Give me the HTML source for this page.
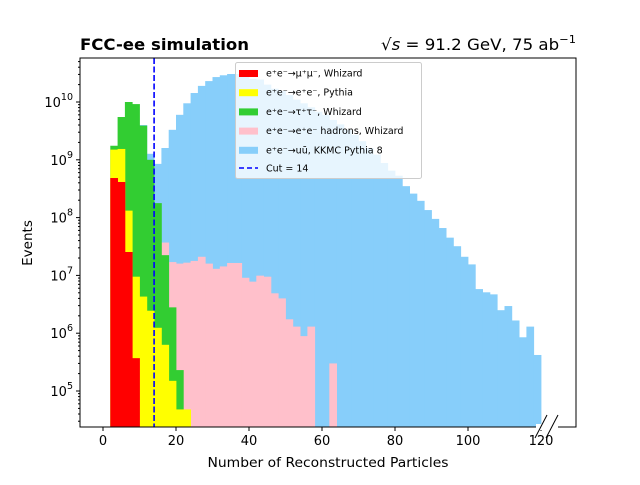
<!DOCTYPE html>
<html><head><meta charset="utf-8"><style>
body{margin:0;background:#fff;}
svg{font-family:"DejaVu Sans","Liberation Sans",sans-serif;}
</style></head><body>
<svg id="chart" width="640" height="480" xmlns="http://www.w3.org/2000/svg">
<rect width="640" height="480" fill="#fff"/>
<text x="80" y="50" font-size="16" font-weight="bold" textLength="169" lengthAdjust="spacingAndGlyphs">FCC-ee simulation</text>
<text x="381" y="50" font-size="16" textLength="195" lengthAdjust="spacingAndGlyphs"><tspan font-style="italic">√s</tspan> = 91.2 GeV, 75 ab<tspan dy="-7" font-size="11">−1</tspan></text>
<g id="bars"></g>
<g id="axes"></g>
<text x="328" y="467" font-size="13.5" text-anchor="middle" textLength="241" lengthAdjust="spacingAndGlyphs">Number of Reconstructed Particles</text>
<text x="32" y="243" font-size="13.5" text-anchor="middle" transform="rotate(-90 32 243)">Events</text>
</svg>
<script>
const binStarts=[];for(let b=2;b<=118;b+=2)binStarts.push(b);
const redVals=[4.84e8,4.13e8,2.54e7,3.7e5];
const yellowVals=[1.5e9,1.54e9,1.32e8,9.5e6,4.3e6,2.45e6,1.24e6,6.3e5,1.5e5,4.8e4,4.8e4];
const greenVals=[1.75e9,5.5e9,1.0e10,9.2e9,3.9e9,1.0e9,1.78e8,2.24e7,2.8e6,2.3e5];
const pinkStart=16;
const pinkVals=[3.7e7,1.7e7,1.6e7,1.66e7,1.78e7,2.1e7,1.6e7,1.3e7,1.43e7,1.64e7,1.64e7,9.1e6,7.8e6,9.9e6,9.5e6,4.9e6,4.0e6,1.74e6,1.3e6,8.9e5,1.3e6,0,0,3.0e5];
const blueStart=8;
const blueVals=[4.0e9,4.0e9,1.27e9,8.5e8,1.6e9,3.3e9,6.0e9,9.5e9,1.43e10,1.9e10,2.3e10,2.7e10,2.9e10,3.05e10,3.05e10,2.8e10,2.5e10,2.45e10,2.0e10,1.7e10,1.55e10,1.32e10,1.1e10,9.5e9,8.1e9,6.8e9,6.0e9,4.9e9,4.1e9,3.3e9,2.7e9,2.1e9,1.6e9,1.23e9,8.8e8,6.5e8,5.3e8,3.5e8,2.6e8,1.95e8,1.35e8,9.5e7,6.6e7,4.5e7,3.2e7,2.1e7,1.55e7,5.8e6,5.1e6,4.7e6,2.5e6,2.95e6,1.66e6,8.5e5,1.3e6,4.2e5];
const xTicks=[0,20,40,60,80,100,120];
const yTickExps=[5,6,7,8,9,10];
const binWidth=2,cutValue=14;

const L=80,R=576,T=58,B=427;
const xs=v=>103+(v)*(438/120);
const ys=v=>102-57.8*(Math.log10(v)-10);
const NS="http://www.w3.org/2000/svg";
const bars=document.getElementById('bars'),axes=document.getElementById('axes'),svg=document.getElementById('chart');
function mk(tag,attrs,parent){const e=document.createElementNS(NS,tag);for(const k in attrs)e.setAttribute(k,attrs[k]);parent.appendChild(e);return e;}
function series(vals,start,color,name){
  vals.forEach((v,i)=>{if(!v)return;const x0=start+i*binWidth;
    const y=Math.max(T,ys(v));if(y>=B)return;
    const r=mk('rect',{x:xs(x0),y:y,width:xs(x0+binWidth)-xs(x0)+0.4,height:B-y,fill:color},bars);
    
    });
}
series(blueVals,blueStart,'#87cefa','uubar');
series(pinkVals,pinkStart,'#ffc0cb','hadrons');
series(greenVals,2,'#32cd32','tautau');
series(yellowVals,2,'#ffff00','ee');
series(redVals,2,'#ff0000','mumu');
const cut=mk('line',{x1:xs(cutValue),x2:xs(cutValue),y1:T,y2:B,stroke:'#0000ff','stroke-width':1.6,'stroke-dasharray':'6,2.5'},bars);


const fr=mk('rect',{x:L,y:T,width:R-L,height:B-T,fill:'none',stroke:'#000','stroke-width':1},axes);


xTicks.forEach(t=>{const x=xs(t);mk('line',{x1:x,x2:x,y1:B,y2:B+4,stroke:'#000'},axes);
  const tx=mk('text',{x:x,y:B+18,'font-size':13,'text-anchor':'middle'},axes);tx.textContent=t;
  
  });
for(let e=4;e<=10;e++){for(let m=1;m<10;m++){const v=m*Math.pow(10,e);const y=ys(v);if(y<T||y>B)continue;
  mk('line',{x1:L-(m===1?4:2),x2:L,y1:y,y2:y,stroke:'#000'},axes);}}
yTickExps.forEach(e=>{const y=ys(Math.pow(10,e));
  const t=mk('text',{x:L-7,y:y+5,'font-size':13,'text-anchor':'end'},axes);
  t.innerHTML='10<tspan dy="-7" font-size="9.5">'+e+'</tspan>';
  
  });
mk('rect',{x:536,y:424,width:22,height:6,fill:'#fff'},axes);
mk('line',{x1:535,y1:438,x2:547,y2:415,stroke:'#000'},axes);
mk('line',{x1:546,y1:438,x2:558,y2:415,stroke:'#000'},axes);
const lg=mk('g',{},svg);


mk('rect',{x:235.5,y:62.5,width:186,height:116,rx:2,fill:'#fff','fill-opacity':0.8,stroke:'#ccc'},lg);
const entries=[['#ff0000','e⁺e⁻→μ⁺μ⁻, Whizard'],['#ffff00','e⁺e⁻→e⁺e⁻, Pythia'],['#32cd32','e⁺e⁻→τ⁺τ⁻, Whizard'],['#ffc0cb','e⁺e⁻→e⁺e⁻ hadrons, Whizard'],['#87cefa','e⁺e⁻→uū, KKMC Pythia 8']];
entries.forEach((en,i)=>{const y=73+i*19.2;
  mk('rect',{x:239,y:y-3,width:19,height:7,fill:en[0]},lg);
  const t=mk('text',{x:266,y:y+3.5,'font-size':9.5},lg);t.textContent=en[1];
  
  });
mk('line',{x1:239,x2:258,y1:168,y2:168,stroke:'#0000ff','stroke-width':1.6,'stroke-dasharray':'5,3'},lg);
const ct=mk('text',{x:266,y:171.5,'font-size':9.5},lg);ct.textContent='Cut = 14';


</script>
</body></html>
